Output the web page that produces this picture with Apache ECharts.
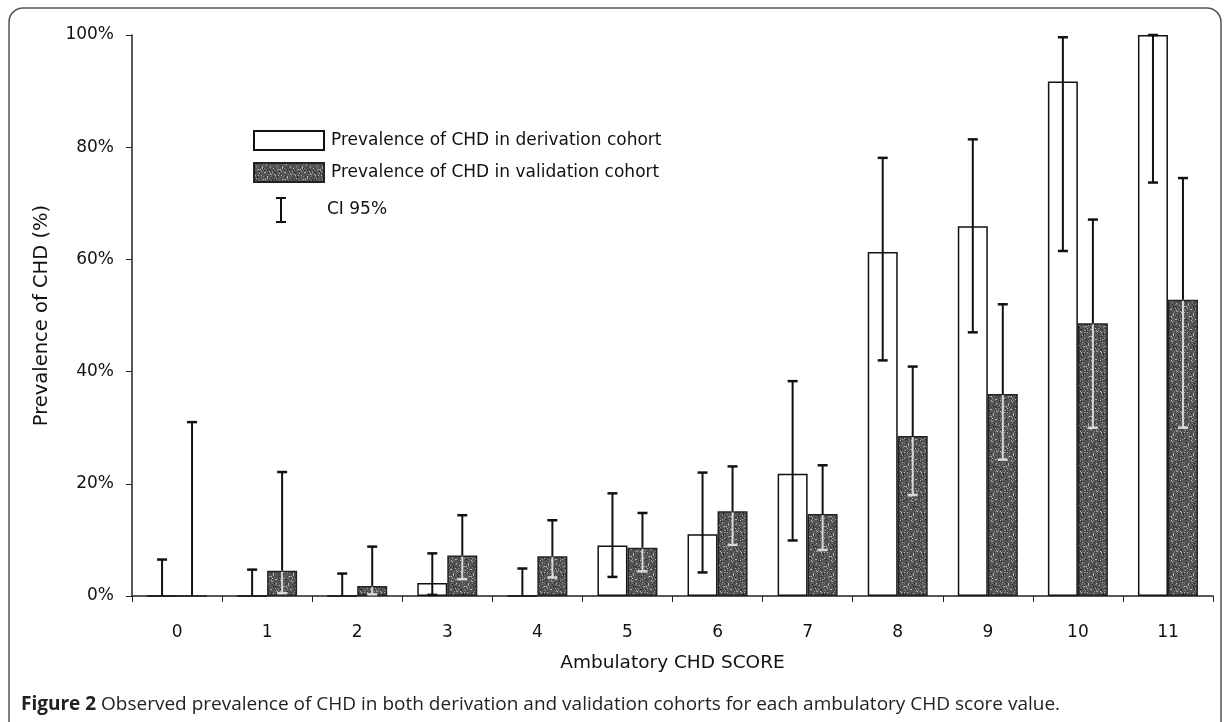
<!DOCTYPE html>
<html>
<head>
<meta charset="utf-8">
<script src="https://cdn.jsdelivr.net/npm/echarts@6/dist/echarts.min.js"></script>
<style>html,body{margin:0;padding:0;background:#fff;}#c{width:1229px;height:722px;}</style>
</head>
<body>
<div id="c"></div>
<script>
// ---- data ----
const categories = ['0','1','2','3','4','5','6','7','8','9','10','11'];
const derivation = [0, 0, 0, 2.3, 0, 9.0, 11.0, 21.8, 61.3, 65.9, 91.7, 100];
const derivLow   = [0, 0, 0, 0.2, 0, 3.4, 4.2, 9.9, 42.0, 47.0, 61.5, 73.7];
const derivHigh  = [6.5, 4.7, 4.0, 7.6, 4.9, 18.3, 22.0, 38.3, 78.1, 81.4, 99.6, 100];
const validation = [0, 4.5, 1.8, 7.2, 7.1, 8.6, 15.1, 14.6, 28.5, 36.0, 48.6, 52.8];
const validLow   = [0, 0.5, 0.3, 3.0, 3.3, 4.4, 9.1, 8.2, 18.0, 24.3, 30.0, 30.0];
const validHigh  = [31.0, 22.1, 8.8, 14.4, 13.5, 14.8, 23.1, 23.3, 40.9, 52.0, 67.1, 74.5];
const yTicks = [0, 20, 40, 60, 80, 100];

// texture for the validation bars (deterministic speckle pattern)
function makePattern() {
  const cv = document.createElement('canvas');
  cv.width = 20; cv.height = 20;
  const ctx = cv.getContext('2d');
  ctx.fillStyle = '#535353';
  ctx.fillRect(0, 0, 20, 20);
  for (let i = 0; i < 20; i++) {
    for (let j = 0; j < 20; j++) {
      const v = (i * 7 + j * 13 + (i * j) % 5) % 11;
      if (v === 0) { ctx.fillStyle = '#b4b4b4'; ctx.fillRect(i, j, 1, 1); }
      else if (v === 3) { ctx.fillStyle = '#7c7c7c'; ctx.fillRect(i, j, 1, 1); }
      else if (v === 7) { ctx.fillStyle = '#2e2e2e'; ctx.fillRect(i, j, 1, 1); }
    }
  }
  return cv;
}
const pattern = { image: makePattern(), repeat: 'repeat' };

const errData = [];
categories.forEach((c, i) => {
  errData.push([i, derivLow[i], derivHigh[i], derivation[i], 0]);
  errData.push([i, validLow[i], validHigh[i], validation[i], 1]);
});

const chart = echarts.init(document.getElementById('c'), null, { renderer: 'canvas' });
const FONT = 'DejaVu Sans';
const BARW = 30;

function renderErr(params, api) {
  const idx = api.value(0), lo = api.value(1), hi = api.value(2), bv = api.value(3), s = api.value(4);
  const pLo = api.coord([idx, lo]);
  const pHi = api.coord([idx, hi]);
  const pB = api.coord([idx, bv]);
  const x = pLo[0] + (s === 0 ? -BARW / 2 : BARW / 2);
  const cap = 5;
  const dark = '#111';
  const light = '#d8d8d8';
  const ch = [];
  const yLo = pLo[1], yHi = pHi[1], yB = pB[1];
  const inside = (s === 1 && bv > 0);
  const topOfInside = Math.max(yHi, yB);
  ch.push({ type: 'line', shape: { x1: x, y1: yHi, x2: x, y2: inside ? topOfInside : yLo }, style: { stroke: dark, lineWidth: 2 } });
  if (inside && yLo > yB) {
    ch.push({ type: 'line', shape: { x1: x, y1: Math.max(yB, yHi) + 1, x2: x, y2: yLo }, style: { stroke: light, lineWidth: 2 } });
  }
  ch.push({ type: 'line', shape: { x1: x - cap, y1: yHi, x2: x + cap, y2: yHi }, style: { stroke: (inside && yHi > yB) ? light : dark, lineWidth: 2.5 } });
  if (lo > 0 || hi === 0) {
    ch.push({ type: 'line', shape: { x1: x - cap, y1: yLo, x2: x + cap, y2: yLo }, style: { stroke: inside ? light : dark, lineWidth: 2.5 } });
  }
  return { type: 'group', children: ch };
}

const option = {
  backgroundColor: '#fff',
  animation: false,
  textStyle: { fontFamily: FONT },
  title: {
    left: 16, top: 690,
    text: '{b|Figure 2} Observed prevalence of CHD in both derivation and validation cohorts for each ambulatory CHD score value.',
    textStyle: {
      fontFamily: 'Open Sans', fontSize: 19, fontWeight: 'normal', color: '#222',
      rich: { b: { fontFamily: 'Open Sans', fontSize: 19, fontWeight: 'bold', color: '#222' } }
    }
  },
  legend: [
    {
      orient: 'vertical', left: 248, top: 125,
      itemWidth: 70, itemHeight: 19, itemGap: 11,
      selectedMode: false,
      data: [
        { name: 'Prevalence of CHD in derivation cohort', icon: 'rect' },
        { name: 'Prevalence of CHD in validation cohort', icon: 'rect' }
      ],
      textStyle: { fontFamily: FONT, fontSize: 17, color: '#111', padding: [0, 0, 0, 2] }
    },
    {
      orient: 'vertical', left: 271, top: 192,
      itemWidth: 10, itemHeight: 26,
      selectedMode: false,
      data: [{ name: 'CI 95%', icon: 'path://M0,0 H10 V2 H6 V24 H10 V26 H0 V24 H4 V2 H0 Z', itemStyle: { color: '#111' } }],
      textStyle: { fontFamily: FONT, fontSize: 17, color: '#111', padding: [0, 0, 0, 36] }
    }
  ],
  grid: { left: 132, right: 16, top: 35, bottom: 126 },
  xAxis: {
    type: 'category',
    data: categories,
    name: 'Ambulatory CHD SCORE',
    nameLocation: 'middle',
    nameGap: 58,
    nameTextStyle: { fontFamily: FONT, fontSize: 18.5, color: '#111' },
    axisLine: { lineStyle: { color: '#222', width: 1.5 } },
    axisTick: { show: true, length: 6, lineStyle: { color: '#222', width: 1 } },
    axisLabel: { margin: 28, fontFamily: FONT, fontSize: 17, color: '#111' }
  },
  yAxis: {
    type: 'value',
    min: 0, max: 100, interval: 20,
    name: 'Prevalence of CHD (%)',
    nameLocation: 'middle',
    nameGap: 80,
    nameTextStyle: { fontFamily: FONT, fontSize: 19.5, color: '#111' },
    axisLine: { show: true, lineStyle: { color: '#222', width: 1.5 } },
    axisTick: { show: true, length: 6, lineStyle: { color: '#222' } },
    splitLine: { show: false },
    axisLabel: { margin: 18, fontFamily: FONT, fontSize: 17, color: '#111', formatter: v => yTicks.includes(v) ? v + '%' : '' }
  },
  series: [
    {
      name: 'Prevalence of CHD in derivation cohort',
      type: 'bar', data: derivation, barWidth: BARW, barGap: '0%',
      itemStyle: { color: '#fff', borderColor: '#111', borderWidth: 1.5 }
    },
    {
      name: 'Prevalence of CHD in validation cohort',
      type: 'bar', data: validation, barWidth: BARW, barGap: '0%',
      itemStyle: { color: pattern, borderColor: '#222', borderWidth: 1.5 }
    },
    {
      name: 'CI 95%', type: 'custom', data: errData, renderItem: renderErr,
      itemStyle: { color: '#111' }, z: 5,
      encode: { x: 0, y: [1, 2] }
    }
  ],
  graphic: [
    { type: 'rect', silent: true, z: -1, shape: { x: 9, y: 8, width: 1212, height: 780, r: 14 }, style: { fill: 'none', stroke: '#555', lineWidth: 1.5 } }
  ]
};
chart.setOption(option);
</script>
</body>
</html>
